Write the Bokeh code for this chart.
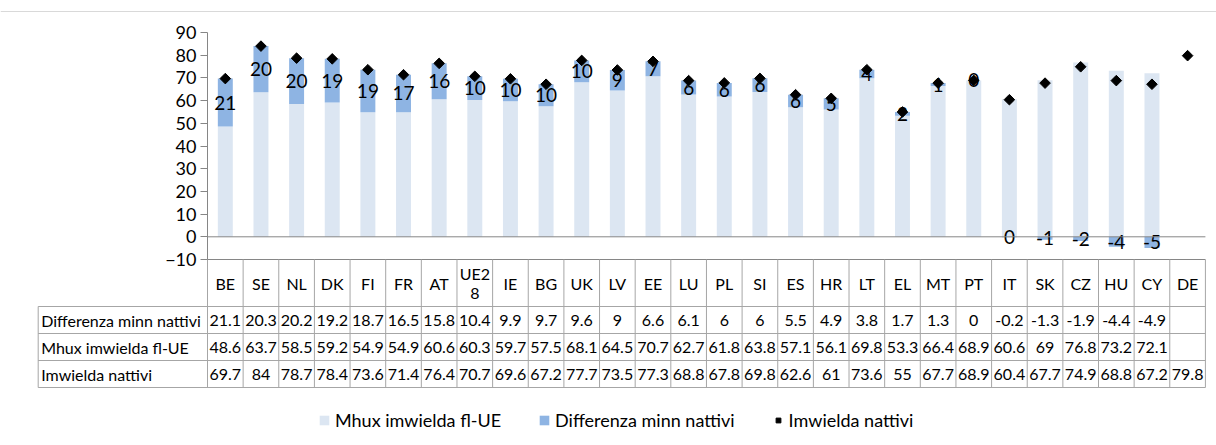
import math
from bokeh.plotting import figure
from bokeh.models import (ColumnDataSource, LinearAxis, FixedTicker, Span,
                          Legend, LegendItem, Grid)
from bokeh.core.properties import value
from bokeh.embed import file_html
from bokeh.resources import INLINE

# ---------------- data ----------------
categories = ["BE", "SE", "NL", "DK", "FI", "FR", "AT", "UE28", "IE", "BG", "UK",
              "LV", "EE", "LU", "PL", "SI", "ES", "HR", "LT", "EL", "MT", "PT",
              "IT", "SK", "CZ", "HU", "CY", "DE"]
differenza = [21.1, 20.3, 20.2, 19.2, 18.7, 16.5, 15.8, 10.4, 9.9, 9.7, 9.6, 9,
              6.6, 6.1, 6, 6, 5.5, 4.9, 3.8, 1.7, 1.3, 0, -0.2, -1.3, -1.9, -4.4,
              -4.9, None]
mhux = [48.6, 63.7, 58.5, 59.2, 54.9, 54.9, 60.6, 60.3, 59.7, 57.5, 68.1, 64.5,
        70.7, 62.7, 61.8, 63.8, 57.1, 56.1, 69.8, 53.3, 66.4, 68.9, 60.6, 69,
        76.8, 73.2, 72.1, None]
nattivi = [69.7, 84, 78.7, 78.4, 73.6, 71.4, 76.4, 70.7, 69.6, 67.2, 77.7, 73.5,
           77.3, 68.8, 67.8, 69.8, 62.6, 61, 73.6, 55, 67.7, 68.9, 60.4, 67.7,
           74.9, 68.8, 67.2, 79.8]
y_ticks = [-10, 0, 10, 20, 30, 40, 50, 60, 70, 80, 90]
name_mhux = "Mhux imwielda fl-UE"
name_diff = "Differenza minn nattivi"
name_nat = "Imwielda nattivi"

# ---------------- geometry (layout only) ----------------
W, H = 1216, 445
COL0 = 207.0      # px of first column's left edge
COLW = 35.64      # px per category column
Y90 = 32.0        # px of the value 90
PXU = 2.27        # px per value unit
x_start = -0.5 - COL0 / COLW
x_end = x_start + W / COLW
y_end = 90 + Y90 / PXU
y_start = y_end - H / PXU


def xu(px):
    return x_start + px / COLW


def yu(py):
    return y_end - py / PXU


FONT = value("Lato")
GRID = "#a6a6a6"
AXC = "#868686"
LIGHT = "#dce6f2"
DARK = "#8eb4e3"

n = len(categories)
xs = list(range(n))

p = figure(width=W, height=H, x_range=(x_start, x_end), y_range=(y_start, y_end),
           output_backend="svg", toolbar_location=None,
           x_axis_location=None, y_axis_location=None, min_border=0)
p.outline_line_color = None
p.background_fill_color = "white"
p.border_fill_color = "white"
for g in p.select(type=Grid):
    g.visible = False

# top thin line
p.add_layout(Span(location=yu(11), dimension="width", line_color="#d9d9d9", line_width=1))

# ---------------- bars ----------------
idx = [i for i in xs if mhux[i] is not None]
src_m = ColumnDataSource(dict(x=idx, top=[mhux[i] for i in idx],
                              bottom=[0] * len(idx)))
r_m = p.vbar(x="x", top="top", bottom="bottom", width=0.42, source=src_m,
             fill_color=LIGHT, line_color=None)

didx = [i for i in xs if differenza[i] is not None]
d_bot, d_top, d_lab, d_mid = [], [], [], []
for i in didx:
    d = differenza[i]
    if d >= 0:
        b, t = mhux[i], mhux[i] + d
    else:
        b, t = 0, d
    d_bot.append(b)
    d_top.append(t)
    d_mid.append((b + t) / 2)
    r = int(math.floor(abs(d) + 0.5))
    d_lab.append(str(r if d >= 0 or r == 0 else -r))
src_d = ColumnDataSource(dict(x=didx, top=d_top, bottom=d_bot, mid=d_mid, lab=d_lab))
r_d = p.vbar(x="x", top="top", bottom="bottom", width=0.42, source=src_d,
             fill_color=DARK, line_color=None)

src_n = ColumnDataSource(dict(x=xs, y=nattivi))
r_n = p.scatter(x="x", y="y", source=src_n, marker="square", angle=math.pi / 4,
                size=7.5, fill_color="black", line_color="black")

p.text(x="x", y="mid", text="lab", source=src_d, text_align="center",
       text_baseline="middle", text_font=FONT, text_font_size="19px",
       text_color="black")

# ---------------- axis lines ----------------
p.segment(x0=[-0.5, -0.5], x1=[n - 0.5, n - 0.5], y0=[0, -10], y1=[0, -10],
          line_color=AXC, line_width=1)

yaxis = LinearAxis(fixed_location=-0.5, bounds=(-10, 90),
                   ticker=FixedTicker(ticks=y_ticks))
yaxis.axis_line_color = AXC
yaxis.major_tick_line_color = AXC
yaxis.major_tick_out = 7
yaxis.major_tick_in = 0
yaxis.minor_tick_out = 0
yaxis.minor_tick_in = 0
yaxis.major_label_text_font = "Lato"
yaxis.major_label_text_font_size = "18px"
yaxis.major_label_text_color = "black"
yaxis.major_label_standoff = 4
p.add_layout(yaxis, "left")

# ---------------- data table ----------------
row_lines = [306, 333, 360, 387]       # px, bottom of header row and rows
label_left = 37.7                       # px, left edge of label column
p.segment(x0=[xu(label_left)] * len(row_lines), x1=[n - 0.5] * len(row_lines),
          y0=[yu(v) for v in row_lines], y1=[yu(v) for v in row_lines],
          line_color=GRID, line_width=1)
vx = [k - 0.5 for k in range(n + 1)]
p.segment(x0=vx, x1=vx, y0=[-10] * len(vx), y1=[yu(row_lines[-1])] * len(vx),
          line_color=GRID, line_width=1)
p.segment(x0=[xu(label_left)], x1=[xu(label_left)], y0=[yu(row_lines[0])],
          y1=[yu(row_lines[-1])], line_color=GRID, line_width=1)

cat_disp = [c if len(c) <= 3 else c[:3] + "\n" + c[3:] for c in categories]
p.text(x=xs, y=[yu((259 + row_lines[0]) / 2)] * n, text=cat_disp,
       text_align="center", text_baseline="middle", text_font=FONT,
       text_font_size="16px", text_color="black", text_line_height=1.05)


def fmt(v):
    return "" if v is None else f"{v:g}"


rows = [(name_diff, differenza), (name_mhux, mhux), (name_nat, nattivi)]
for k, (nm, vals) in enumerate(rows):
    yc = yu((row_lines[k] + row_lines[k + 1]) / 2)
    p.text(x=[xu(label_left + 3)], y=[yc], text=[nm], text_align="left",
           text_baseline="middle", text_font=FONT, text_font_size="16px",
           text_color="black")
    p.text(x=xs, y=[yc] * n, text=[fmt(v) for v in vals], text_align="center",
           text_baseline="middle", text_font=FONT, text_font_size="16px",
           text_color="black")

# ---------------- legend ----------------
legend = Legend(items=[LegendItem(label=name_mhux, renderers=[r_m]),
                       LegendItem(label=name_diff, renderers=[r_d]),
                       LegendItem(label=name_nat, renderers=[r_n])],
                orientation="horizontal", location=(318, 14))
legend.border_line_color = None
legend.background_fill_alpha = 0
legend.label_text_font = "Lato"
legend.label_text_font_size = "18px"
legend.label_text_color = "black"
legend.glyph_width = 12
legend.glyph_height = 12
legend.spacing = 37
legend.padding = 0
legend.margin = 0
legend.label_standoff = 5
p.add_layout(legend)

open("out.html", "w").write(file_html(p, INLINE))
